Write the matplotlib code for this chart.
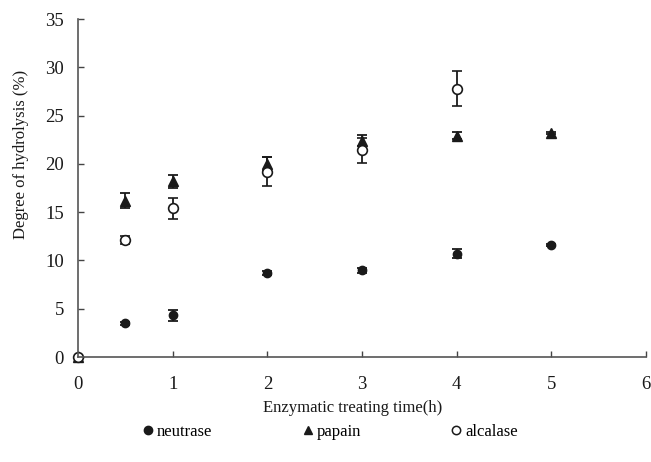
import matplotlib
matplotlib.use("Agg")
import matplotlib.pyplot as plt
from matplotlib.lines import Line2D

plt.rcParams['font.family'] = ['Liberation Serif', 'DejaVu Serif']

time_neutrase = [0, 0.5, 1, 2, 3, 4, 5]
dh_neutrase = [0, 3.5, 4.3, 8.7, 9.0, 10.7, 11.6]
err_neutrase = [0, 0.15, 0.6, 0.2, 0.25, 0.45, 0.15]

time_papain = [0, 0.5, 1, 2, 3, 4, 5]
dh_papain = [0, 16.2, 18.2, 20.0, 22.4, 22.9, 23.2]
err_papain = [0, 0.75, 0.65, 0.7, 0.55, 0.35, 0.15]

time_alcalase = [0, 0.5, 1, 2, 3, 4]
dh_alcalase = [0, 12.1, 15.4, 19.2, 21.4, 27.8]
err_alcalase = [0, 0.4, 1.1, 1.5, 1.3, 1.8]

xticks = [0, 1, 2, 3, 4, 5, 6]
yticks = [0, 5, 10, 15, 20, 25, 30, 35]

fig = plt.figure(figsize=(6.51, 4.62), dpi=100)
ax = fig.add_axes([78/651, 1-357/462, (646-78)/651, (357-19)/462])

c = '#1a1a1a'
ekw = dict(ecolor=c, elinewidth=1.3, capsize=3.5, capthick=1.3, linestyle='none')
ax.errorbar(time_neutrase, dh_neutrase, yerr=err_neutrase, fmt='o', ms=6,
            mfc=c, mec=c, **ekw)
ax.errorbar(time_papain, dh_papain, yerr=err_papain, fmt='^', ms=6.5,
            mfc=c, mec=c, **ekw)
ax.errorbar(time_alcalase, dh_alcalase, yerr=err_alcalase, fmt='o', ms=7,
            mfc='white', mec=c, mew=1.2, **ekw)

ax.set_xlim(0, 6)
ax.set_ylim(0, 35)
ax.set_xticks(xticks)
ax.set_yticks(yticks)
ax.tick_params(direction='in', length=4, width=1, colors='#444444',
               labelcolor='#1a1a1a', labelsize=13.5)
ax.tick_params(axis='y', pad=10)
ax.tick_params(axis='x', pad=14)
for s in ['top', 'right']:
    ax.spines[s].set_visible(False)
for s in ['left', 'bottom']:
    ax.spines[s].set_color('#555555')
    ax.spines[s].set_linewidth(1.2)
for art in ax.get_children():
    try:
        art.set_clip_on(False)
    except Exception:
        pass

ax.set_xlabel('Enzymatic treating time(h)', fontsize=12, color='#1a1a1a')
ax.set_ylabel('Degree of hydrolysis (%)', fontsize=12, color='#1a1a1a')
ax.xaxis.set_label_coords(0.483, -0.128)
ax.yaxis.set_label_coords(-0.086, 0.598)

handles = [
    Line2D([], [], marker='o', color=c, ls='none', ms=6),
    Line2D([], [], marker='^', color=c, ls='none', ms=6),
    Line2D([], [], marker='o', mfc='white', mec=c, mew=1.1, ls='none', ms=6),
]
fig.legend(handles, ['neutrase', 'papain', 'alcalase'], loc='center',
           bbox_to_anchor=(0.505, 0.065), ncol=3, frameon=False,
           fontsize=12, handletextpad=0.05, columnspacing=5.2, handlelength=1.0)

fig.savefig('out.png', dpi=100)
